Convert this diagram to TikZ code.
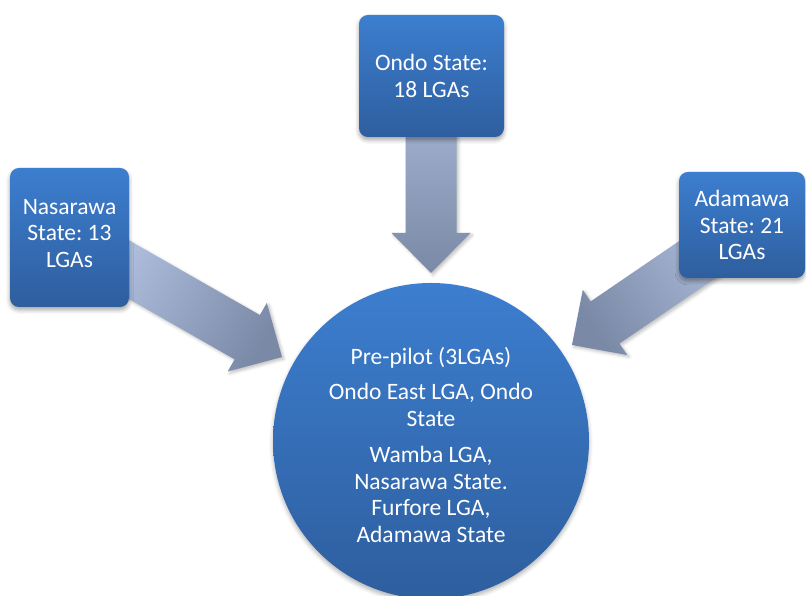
\documentclass[tikz,border=0pt]{standalone}
\usepackage{fontspec}
\setmainfont{Carlito}
\frenchspacing
\usetikzlibrary{shadows.blur,calc}

\definecolor{boxtop}{HTML}{3C7ECF}
\definecolor{boxbottom}{HTML}{2E5E9E}
\definecolor{arrowlight}{HTML}{B0BFDD}
\definecolor{arrowdark}{HTML}{7A89A6}

\tikzset{
  statebox/.style={rectangle, rounded corners=9pt, inner sep=0pt,
    top color=boxtop, bottom color=boxbottom,
    blur shadow={shadow xshift=0pt, shadow yshift=-3pt, shadow blur radius=4pt, shadow opacity=35}},
  boxtext/.style={text=white, align=center, inner sep=0pt,
    font=\fontsize{23.5}{26.6}\selectfont},
  hubcircle/.style={circle, inner sep=0pt, minimum size=316pt,
    top color=boxtop, bottom color=boxbottom,
    blur shadow={shadow xshift=0pt, shadow yshift=-3pt, shadow blur radius=4pt, shadow opacity=30}},
  blockarrow/.style={top color=arrowlight, bottom color=arrowdark,
    blur shadow={shadow xshift=2pt, shadow yshift=-2pt, shadow blur radius=3pt, shadow opacity=25}}
}

% block arrow: #1 tip coordinate, #2 direction angle, #3 total length, #4 shading angle
\newcommand{\blockarrowpath}[4]{%
  \begin{scope}[shift={(#1)}, rotate=#2]
    \path[blockarrow, shading angle=#4]
      (0,0) -- (-40,39.5) -- (-40,25.5) -- (-#3,25.5) -- (-#3,-25.5)
      -- (-40,-25.5) -- (-40,-39.5) -- cycle;
  \end{scope}}

\begin{document}
\begin{tikzpicture}[x=1pt,y=1pt]
  \useasboundingbox (0,0) rectangle (806,596);

  % hub circle
  \node[hubcircle] (hub) at (431,155) {};

  % arrow tips
  \coordinate (tipN) at (282,239);
  \coordinate (tipO) at (431,323);
  \coordinate (tipA) at (572,251);

  % arrows run from behind each box into the hub
  \blockarrowpath{tipN}{-29.7}{200}{60.3}
  \blockarrowpath{tipO}{-90}{217}{0}
  \blockarrowpath{tipA}{-145.7}{200}{-55.7}

  % state boxes
  \node[statebox, minimum width=119pt, minimum height=139pt] (nas) at (69.5,358.5) {};
  \node[statebox, minimum width=145pt, minimum height=122pt] (ondo) at (431.5,520) {};
  \node[statebox, minimum width=126pt, minimum height=106pt] (ada) at (742,371) {};

  \node[boxtext] (nastxt) at ([yshift=4pt]nas.center) {Nasarawa\\State: 13\\LGAs};
  \node[boxtext] (ondotxt) at (ondo.center) {Ondo State:\\18 LGAs};
  \node[boxtext] (adatxt) at (ada.center) {Adamawa\\State: 21\\LGAs};

  % hub text
  \node[boxtext] (hubtxt) at (431,151)
    {Pre-pilot (3LGAs)\\[8.5pt]
     Ondo East LGA, Ondo\\State\\[10pt]
     Wamba LGA,\\Nasarawa State.\\Furfore LGA,\\Adamawa State};
\end{tikzpicture}
\end{document}
